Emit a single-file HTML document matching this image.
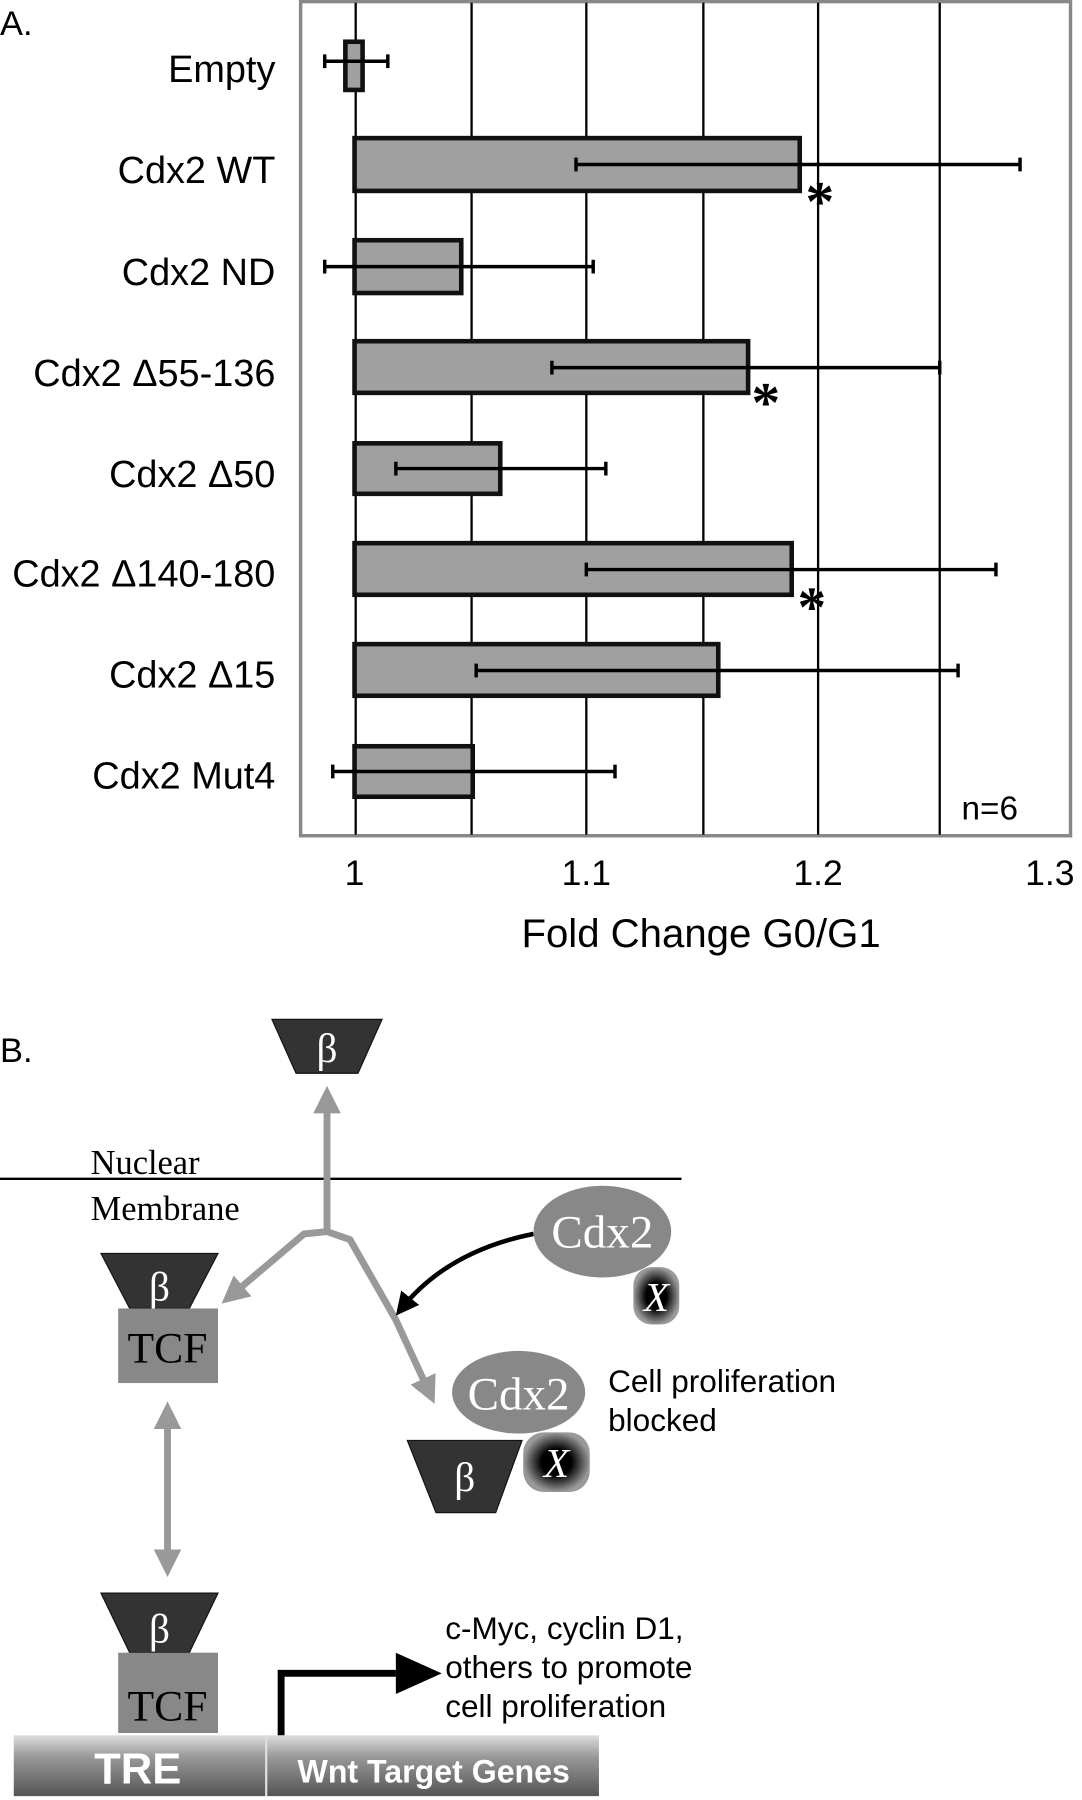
<!DOCTYPE html>
<html><head><meta charset="utf-8"><style>html,body{margin:0;padding:0;background:#fff}svg{display:block}</style></head><body>
<svg width="1082" height="1800" viewBox="0 0 943 1568" xmlns="http://www.w3.org/2000/svg">
<defs>
<linearGradient id="bar" x1="0" y1="0" x2="0" y2="1"><stop offset="0" stop-color="#ddd"/><stop offset="0.35" stop-color="#999"/><stop offset="1" stop-color="#555"/></linearGradient>
<radialGradient id="xg"><stop offset="0.45" stop-color="#000"/><stop offset="1" stop-color="#999"/></radialGradient>
<marker id="ga" markerWidth="4" markerHeight="4" refX="2.5" refY="2" orient="auto-start-reverse"><path d="M0,0 L4,2 L0,4 z" fill="#999"/></marker>
<marker id="ba" markerWidth="5" markerHeight="5" refX="3" refY="2.5" orient="auto"><path d="M0,0 L5,2.5 L0,5 z" fill="#000"/></marker>
</defs>
<g font-family="Liberation Sans, sans-serif">
<text x="0" y="30" font-size="30">A.</text>
<rect x="262" y="1" width="671" height="727" fill="#fff" stroke="#888" stroke-width="3"/>
<g stroke="#000" stroke-width="2">
<line x1="310" y1="2" x2="310" y2="727"/><line x1="411" y1="2" x2="411" y2="727"/><line x1="511" y1="2" x2="511" y2="727"/><line x1="613" y1="2" x2="613" y2="727"/><line x1="713" y1="2" x2="713" y2="727"/><line x1="819" y1="2" x2="819" y2="727"/>
</g>
<g fill="#a0a0a0" stroke="#111" stroke-width="4">
<rect x="301" y="36" width="15" height="42"/>
<rect x="309" y="120" width="388" height="46"/>
<rect x="309" y="209" width="93" height="46"/>
<rect x="309" y="297" width="343" height="45"/>
<rect x="309" y="386" width="127" height="44"/>
<rect x="309" y="473" width="381" height="45"/>
<rect x="309" y="561" width="317" height="45"/>
<rect x="309" y="650" width="103" height="44"/>
</g>
<g stroke="#000" stroke-width="3">
<path d="M283 53H338M283 47V59M338 47V59"/>
<path d="M502 143H889M502 137V149M889 137V149"/>
<path d="M283 232H517M283 226V238M517 226V238"/>
<path d="M481 320H819M481 314V326M819 314V326"/>
<path d="M345 408H528M345 402V414M528 402V414"/>
<path d="M511 496H868M511 490V502M868 490V502"/>
<path d="M415 584H835M415 578V590M835 578V590"/>
<path d="M290 672H536M290 666V678M536 666V678"/>
</g>
<g font-size="50" font-weight="bold" font-family="Liberation Serif, serif"><text x="702" y="192">*</text><text x="655" y="367">*</text><text x="695" y="545">*</text></g>
<g font-size="33" text-anchor="end">
<text x="240" y="71">Empty</text><text x="240" y="159">Cdx2 WT</text><text x="240" y="248">Cdx2 ND</text><text x="240" y="336">Cdx2 Δ55-136</text><text x="240" y="424">Cdx2 Δ50</text><text x="240" y="511">Cdx2 Δ140-180</text><text x="240" y="599">Cdx2 Δ15</text><text x="240" y="687">Cdx2 Mut4</text>
</g>
<g font-size="31" text-anchor="middle"><text x="309" y="771">1</text><text x="511" y="771">1.1</text><text x="713" y="771">1.2</text><text x="915" y="771">1.3</text><text x="611" y="825" font-size="35">Fold Change G0/G1</text></g>
<text x="838" y="714" font-size="29">n=6</text>
<text x="0" y="925" font-size="30">B.</text>
<line x1="0" y1="1027" x2="594" y2="1027" stroke="#000" stroke-width="2"/>
<g font-family="Liberation Serif, serif" font-size="30"><text x="79" y="1023">Nuclear</text><text x="79" y="1063">Membrane</text></g>
<g fill="none" stroke="#999" stroke-width="6">
<line x1="285" y1="1073" x2="285" y2="955" marker-end="url(#ga)"/>
<path d="M285 1073 L265 1075 L200 1130" marker-end="url(#ga)"/>
<path d="M285 1073 L305 1080 L345 1150 L375 1215" marker-end="url(#ga)"/>
<line x1="146" y1="1230" x2="146" y2="1365" marker-start="url(#ga)" marker-end="url(#ga)"/>
</g>
<path d="M465 1075 Q390 1090 350 1140" fill="none" stroke="#000" stroke-width="4" marker-end="url(#ba)"/>
<g fill="#333" stroke="#111" stroke-width="1">
<path d="M237 888H333L312 935H258Z"/>
<path d="M88 1092H190L165 1140H113Z"/>
<path d="M88 1388H190L165 1440H113Z"/>
<path d="M355 1255H455L432 1318H380Z"/>
</g>
<g fill="#fff" font-family="Liberation Serif, serif" font-size="36" text-anchor="middle">
<text x="285" y="925">β</text><text x="139" y="1133">β</text><text x="139" y="1431">β</text><text x="405" y="1299">β</text>
</g>
<rect x="103" y="1140" width="87" height="65" fill="#888"/>
<rect x="103" y="1440" width="87" height="70" fill="#888"/>
<g font-family="Liberation Serif, serif" font-size="38" text-anchor="middle"><text x="146" y="1187">TCF</text><text x="146" y="1499">TCF</text></g>
<ellipse cx="525" cy="1073" rx="60" ry="40" fill="#888"/>
<ellipse cx="452" cy="1213" rx="58" ry="36" fill="#888"/>
<rect x="552" y="1104" width="40" height="50" rx="16" fill="url(#xg)"/>
<rect x="456" y="1248" width="58" height="52" rx="18" fill="url(#xg)"/>
<g fill="#fff" font-family="Liberation Serif, serif" font-size="41" text-anchor="middle"><text x="525" y="1087">Cdx2</text><text x="452" y="1228">Cdx2</text></g>
<g fill="#fff" font-family="Liberation Serif, serif" font-style="italic" font-size="36" text-anchor="middle"><text x="572" y="1142">X</text><text x="485" y="1287">X</text></g>
<g font-size="27.5"><text x="530" y="1213">Cell proliferation</text><text x="530" y="1247">blocked</text>
<text x="388" y="1428">c-Myc, cyclin D1,</text><text x="388" y="1462">others to promote</text><text x="388" y="1496">cell proliferation</text></g>
<rect x="12" y="1512" width="510" height="53" fill="url(#bar)"/>
<line x1="232" y1="1512" x2="232" y2="1565" stroke="#ddd" stroke-width="2"/>
<text x="120" y="1554" fill="#fff" font-weight="bold" font-size="38" text-anchor="middle">TRE</text>
<text x="378" y="1553" fill="#fff" font-weight="bold" font-size="28" text-anchor="middle">Wnt Target Genes</text>
<path d="M245 1512V1458H345" fill="none" stroke="#000" stroke-width="6"/>
<path d="M345 1440L385 1458L345 1476Z" fill="#000"/>
</g>
</svg>
</body></html>
